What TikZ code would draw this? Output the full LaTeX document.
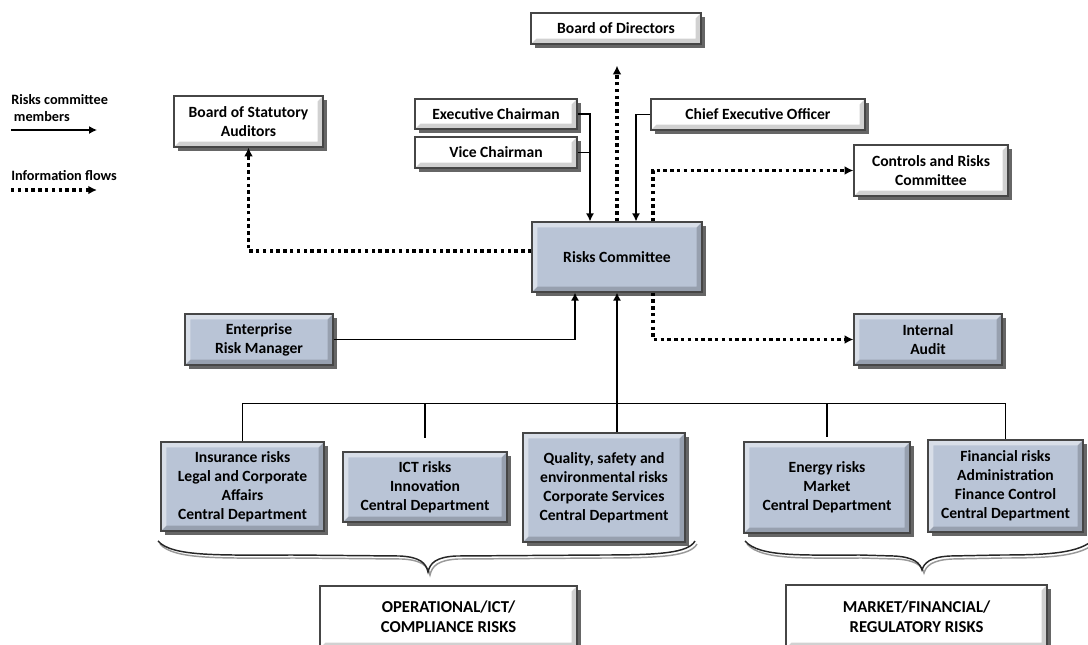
\documentclass[tikz,border=0pt]{standalone}
\usepackage{fontspec}
\setmainfont{Carlito}
\usetikzlibrary{arrows.meta,shadows}
\definecolor{boxblue}{RGB}{185,196,214}
\definecolor{boxline}{RGB}{70,70,70}
\tikzstyle{orgline}=[line width=1pt]
\tikzstyle{orgarc}=[orgline,-{Latex[length=6pt,width=6pt]}]
\tikzstyle{infoarc}=[-{Latex[length=6.5pt,width=6.5pt]},line width=2.6pt,dash pattern=on 2.6pt off 2.5pt]
\tikzstyle{bevel}=[path picture={
 \fill[white,opacity=0.45] (path picture bounding box.north west) -- (path picture bounding box.north east)
  -- ([shift={(-4pt,-4pt)}]path picture bounding box.north east) -- ([shift={(4pt,-4pt)}]path picture bounding box.north west)
  -- ([shift={(4pt,4pt)}]path picture bounding box.south west) -- (path picture bounding box.south west) -- cycle;
 \fill[black,opacity=0.18] (path picture bounding box.south east) -- (path picture bounding box.south west)
  -- ([shift={(4pt,4pt)}]path picture bounding box.south west) -- ([shift={(-4pt,4pt)}]path picture bounding box.south east)
  -- ([shift={(-4pt,-4pt)}]path picture bounding box.north east) -- (path picture bounding box.north east) -- cycle;}]
\tikzstyle{orgbox}=[draw=boxline,line width=0.9pt,align=center,inner sep=0pt,bevel,font=\fontsize{11.7}{14.2}\selectfont\bfseries,drop shadow={shadow xshift=2.8pt,shadow yshift=-2.8pt,fill=black!60,opacity=1}]
\tikzstyle{whitebox}=[orgbox,fill=white]
\tikzstyle{bluebox}=[orgbox,fill=boxblue]
\tikzstyle{areabox}=[whitebox,font=\fontsize{12.5}{15}\selectfont\bfseries]
\tikzstyle{legendlabel}=[anchor=west,align=left,inner sep=0pt,font=\fontsize{10.7}{12.8}\selectfont\bfseries]
\tikzstyle{riskbrace}=[line width=1.1pt]

\begin{document}
\begin{tikzpicture}[x=0.75pt,y=-0.75pt]
\useasboundingbox (0,0) rectangle (1088,644);

\node[whitebox,minimum width=127.5pt,minimum height=23.25pt] (BOARD) at (616,28.5) {Board of Directors};
\node[whitebox,minimum width=121.5pt,minimum height=22.5pt] (EXEC) at (496,114) {Executive Chairman};
\node[whitebox,minimum width=121.5pt,minimum height=23.25pt] (VICE) at (496,152.5) {Vice Chairman};
\node[whitebox,minimum width=160.5pt,minimum height=23.25pt] (CEO) at (758,114.5) {Chief Executive Officer};
\node[whitebox,minimum width=111.75pt,minimum height=38.25pt] (AUDITORS) at (248.5,121.5) {Board of Statutory\\Auditors};
\node[whitebox,minimum width=115.5pt,minimum height=38.25pt] (CONTROLS) at (931,170.5) {Controls and Risks\\Committee};

\node[bluebox,minimum width=127.5pt,minimum height=52.5pt] (RISKS) at (617,257) {Risks Committee};
\node[bluebox,minimum width=111pt,minimum height=38.25pt] (ERM) at (259,339.5) {Enterprise\\Risk Manager};
\node[bluebox,minimum width=111pt,minimum height=38.25pt] (AUDIT) at (928,339.5) {Internal\\Audit};

\node[bluebox,minimum width=122.25pt,minimum height=66.75pt] (R1) at (242.5,486.5) {Insurance risks\\Legal and Corporate\\Affairs\\Central Department};
\node[bluebox,minimum width=123pt,minimum height=52.5pt] (R2) at (425,487) {ICT risks\\Innovation\\Central Department};
\node[bluebox,minimum width=121.5pt,minimum height=81.75pt] (R3) at (604,487.5) {Quality, safety and\\environmental risks\\Corporate Services\\Central Department};
\node[bluebox,minimum width=124.5pt,minimum height=68.25pt] (R4) at (827,487.5) {Energy risks\\Market\\Central Department};
\node[bluebox,minimum width=116.25pt,minimum height=69pt] (R5) at (1005.5,486) {Financial risks\\Administration\\Finance Control\\Central Department};

\node[areabox,minimum width=192.75pt,minimum height=46.5pt] (AREA1) at (448.5,617) {OPERATIONAL/ICT/\\COMPLIANCE RISKS};
\node[areabox,minimum width=195.75pt,minimum height=47.25pt] (AREA2) at (916.5,616.5) {MARKET/FINANCIAL/\\REGULATORY RISKS};

\node[legendlabel] (LEGMEMBERS) at (11,108.5) {Risks committee\\\hspace{2pt}members};
\node[legendlabel] (LEGFLOWS) at (11,176) {Information flows};
\coordinate (LEGA1) at (11,130);
\coordinate (LEGA2) at (97,130);
\coordinate (LEGB1) at (11,190);
\coordinate (LEGB2) at (97,190);

\coordinate[shift={(-27,0)}] (RISKSN1) at (RISKS.north);
\coordinate[shift={(19,0)}] (RISKSN2) at (RISKS.north);
\coordinate[shift={(36,0)}] (RISKSN3) at (RISKS.north);
\coordinate[shift={(-42,0)}] (RISKSS1) at (RISKS.south);
\coordinate[shift={(36,0)}] (RISKSS2) at (RISKS.south);
\coordinate[shift={(0,-6)}] (RISKSW) at (RISKS.west);
\coordinate[shift={(0,21)}] (BOARDEND) at (BOARD.south);
\coordinate[shift={(0,-38)}] (BUS) at (R1.north);

\draw[orgarc] (LEGA1) -- (LEGA2);
\draw[infoarc] (LEGB1) -- (LEGB2);

\draw[orgarc] (EXEC.east) -| (RISKSN1);
\draw[orgline] (VICE.east) -- (VICE.east -| RISKSN1);
\draw[orgarc] (CEO.west) -| (RISKSN2);
\draw[orgarc] (ERM.east) -| (RISKSS1);
\draw[orgarc] (RISKS.south |- R3.north) -- (RISKS.south);

\draw[infoarc] (RISKS.north) -- (RISKS.north |- BOARDEND);
\draw[infoarc] (RISKSN3) |- (CONTROLS.west);
\draw[infoarc] (RISKSS2) |- (AUDIT.west);
\draw[infoarc] (RISKSW) -| (AUDITORS.south);

\draw[orgline] (R1.north) -- (BUS) -- (BUS -| R5.north) -- (R5.north);
\draw[orgline,shorten >=10pt] (BUS -| R2.north) -- (R2.north);
\draw[orgline,shorten >=3pt] (BUS -| R4.north) -- (R4.north);

\foreach \dx/\dy/\c in {2/3/black!40, 0/0/black!85} {
\draw[riskbrace,\c,shift={(\dx,\dy)}] (158,541) .. controls (172,557) and (220,555) .. (293,555) -- (400,556)
 .. controls (420,557) and (426,563) .. (428,572) .. controls (430,563) and (436,557) .. (456,556)
 -- (600,555) .. controls (660,555) and (688,553) .. (695,541);
\draw[riskbrace,\c,shift={(\dx,\dy)}] (745,541) .. controls (759,557) and (800,555) .. (860,555) -- (894,556)
 .. controls (914,557) and (920,563) .. (922,570) .. controls (924,563) and (930,557) .. (950,556)
 -- (1000,555) .. controls (1050,555) and (1080,553) .. (1094,539);
}

\end{tikzpicture}
\end{document}
